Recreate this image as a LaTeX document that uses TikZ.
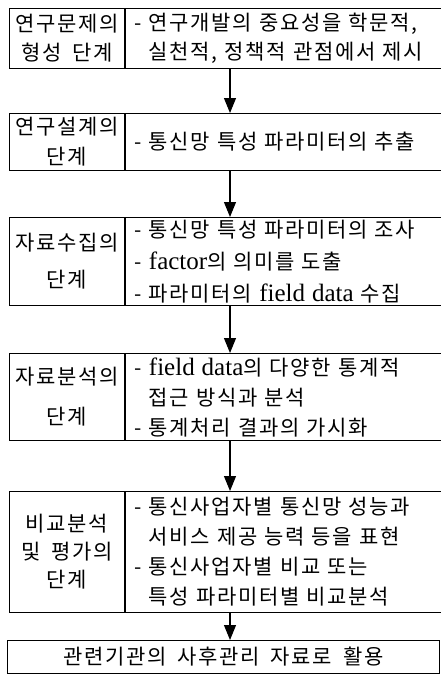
\documentclass[tikz,border=0pt]{standalone}
\usepackage{fontspec}
\setmainfont{Noto Sans CJK KR}[WordSpace=1.7, LetterSpace=8]
\newfontfamily\latfont{Liberation Serif}
\newcommand{\lat}[1]{{\latfont\fontsize{25}{30}\selectfont #1}}
\usetikzlibrary{arrows.meta}

\tikzset{
  stagebox/.style={draw, line width=1.1pt, minimum width=115pt, inner sep=0pt,
    align=center, anchor=north west},
  taskbox/.style={draw, line width=1.1pt, text width=304pt,
    inner xsep=9pt, inner ysep=0pt, align=left, anchor=north west},
  flow/.style={line width=1.1pt, -{Triangle[length=15pt,width=12pt]}}
}

\begin{document}
\begin{tikzpicture}[x=1pt, y=-1pt, font=\fontsize{21}{30}\selectfont]
    \useasboundingbox (0,0) rectangle (441,685);
    \coordinate (spine) at (230,0);

    % Stage 1
    \node[stagebox, minimum height=60pt] (s1) at (9,8) {연구문제의\\[-1pt]형성 단계};
    \node[taskbox, minimum height=60pt] (t1) at (s1.north east)
        {- 연구개발의 중요성을 학문적,\\[-1pt]\phantom{- }실천적, 정책적 관점에서 제시};

    % Stage 2
    \node[stagebox, minimum height=57pt] (s2) at (9,113) {연구설계의\\단계};
    \node[taskbox, minimum height=57pt] (t2) at (s2.north east)
        {- 통신망 특성 파라미터의 추출};

    % Stage 3
    \node[stagebox, minimum height=88pt] (s3) at (9,217) {자료수집의\\[7pt]단계};
    \node[taskbox, minimum height=88pt] (t3) at (s3.north east)
        {- 통신망 특성 파라미터의 조사\\[2pt]- \lat{factor}의 의미를 도출\\[2pt]- 파라미터의 \lat{field data} 수집};

    % Stage 4
    \node[stagebox, minimum height=87pt] (s4) at (9,353) {자료분석의\\[10pt]단계};
    \node[taskbox, minimum height=87pt] (t4) at (s4.north east)
        {- \lat{field data}의 다양한 통계적\\\phantom{- }접근 방식과 분석\\- 통계처리 결과의 가시화};

    % Stage 5
    \node[stagebox, minimum height=121pt] (s5) at (9,491) {비교분석\\[-2pt]및 평가의\\[-2pt]단계};
    \node[taskbox, minimum height=121pt] (t5) at (s5.north east)
        {- 통신사업자별 통신망 성능과\\\phantom{- }서비스 제공 능력 등을 표현\\- 통신사업자별 비교 또는\\\phantom{- }특성 파라미터별 비교분석};

    % Result
    \node[draw, line width=1.1pt, minimum width=432pt, minimum height=33pt,
        inner sep=0pt, anchor=north west] (use) at (7,640) {관련기관의 사후관리 자료로 활용};

    % Flow
    \draw[flow] (t1.south -| spine) -- (t2.north -| spine);
    \draw[flow] (t2.south -| spine) -- (t3.north -| spine);
    \draw[flow] (t3.south -| spine) -- (t4.north -| spine);
    \draw[flow] (t4.south -| spine) -- (t5.north -| spine);
    \draw[flow] (t5.south -| spine) -- (use.north -| spine);
\end{tikzpicture}
\end{document}
